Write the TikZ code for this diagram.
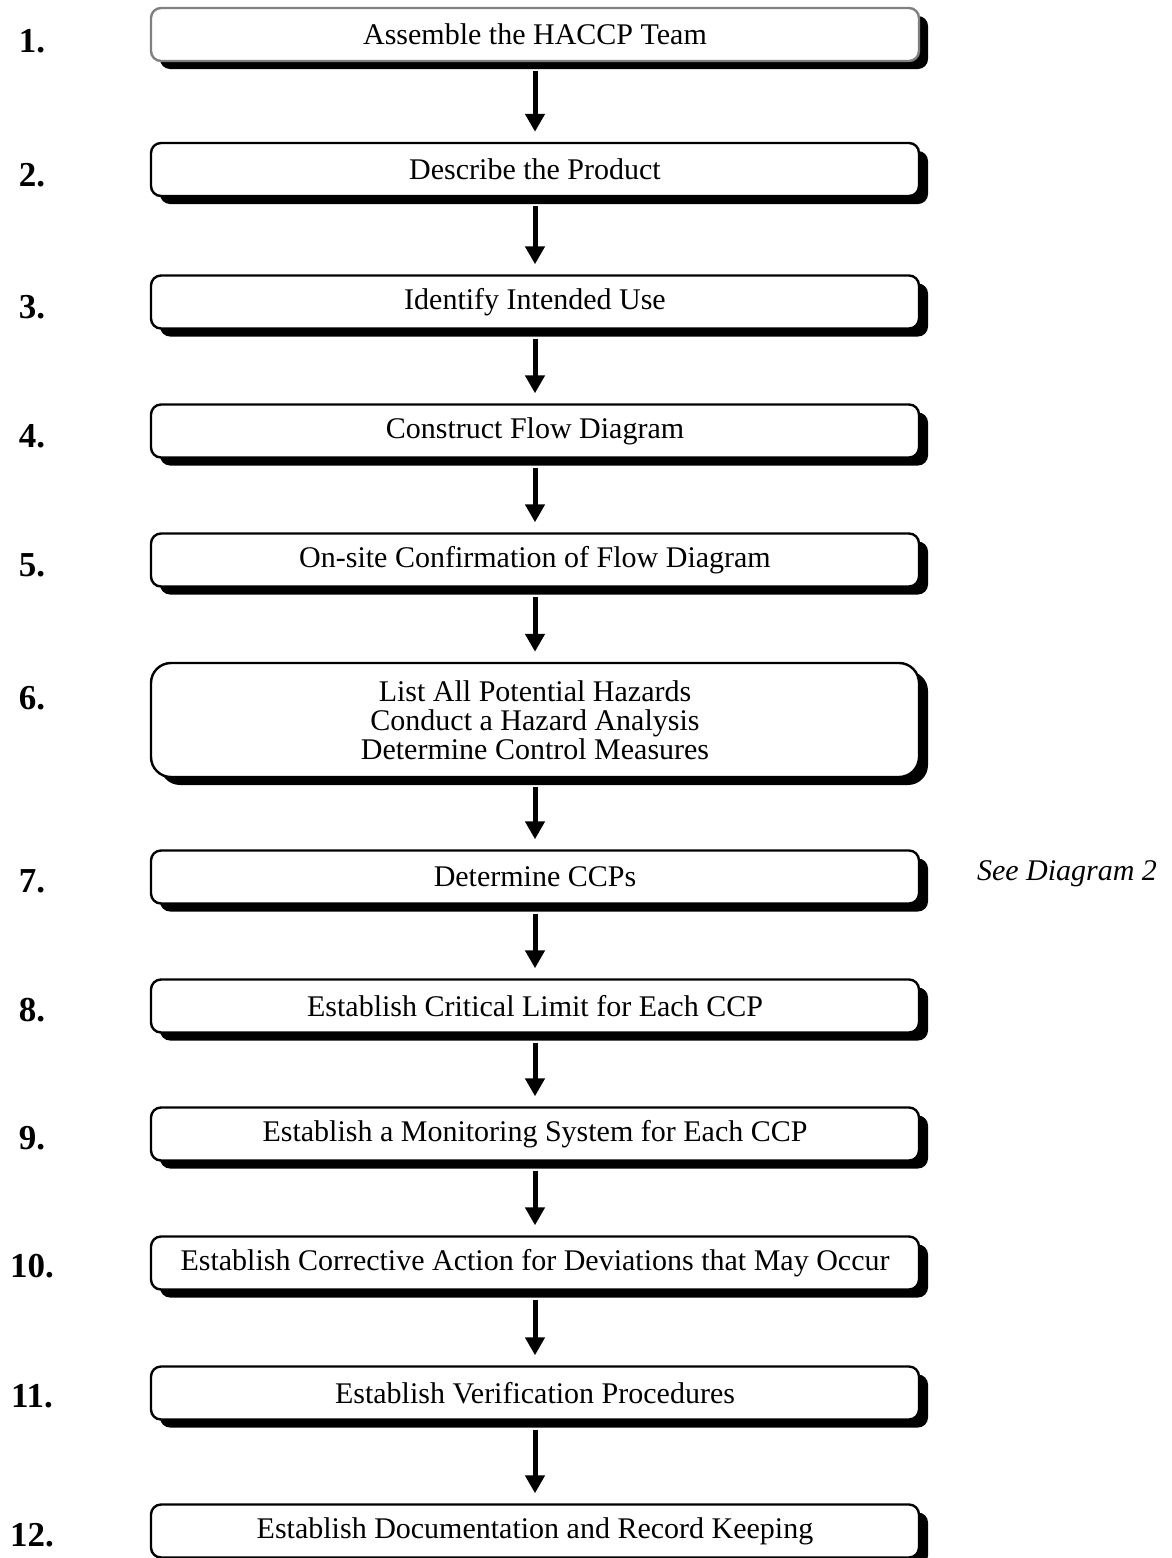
\documentclass[tikz,border=0pt]{standalone}
\usepackage{fontspec}
\setmainfont{Liberation Serif}
\usepackage{tikz}
\usetikzlibrary{shadows}
\usetikzlibrary{arrows.meta}

\tikzset{
    stepbox/.style={draw=black, line width=2.4pt, rounded corners=10pt, fill=white,
                    minimum width=768pt, minimum height=53pt, inner sep=0pt, align=center,
                    font=\fontsize{30}{29}\selectfont,
                    drop shadow={shadow xshift=9pt, shadow yshift=-8pt, fill=black, opacity=1}},
    stepnum/.style={font=\fontsize{35}{36}\selectfont\bfseries},
    steparrow/.style={line width=5pt, -{Triangle[width=19pt,length=18pt]}}
}

\begin{document}
\begin{tikzpicture}[x=1pt,y=-1pt]
        \useasboundingbox (0,0) rectangle (1171,1558);

        \node[stepbox, draw=black!50] (b1) at (535,34.5) {Assemble the HACCP Team};
        \node[stepbox] (b2) at (535,169.5) {Describe the Product};
        \node[stepbox] (b3) at (535,302) {Identify Intended Use};
        \node[stepbox] (b4) at (535,431) {Construct Flow Diagram};
        \node[stepbox] (b5) at (535,560) {On-site Confirmation of Flow Diagram};
        \node[stepbox, rounded corners=20pt, minimum height=114pt] (b6) at (535,720)
             {List All Potential Hazards\\ Conduct a Hazard Analysis\\ Determine Control Measures};
        \node[stepbox] (b7) at (535,877) {Determine CCPs};
        \node[stepbox] (b8) at (535,1006) {Establish Critical Limit for Each CCP};
        \node[stepbox] (b9) at (535,1134) {Establish a Monitoring System for Each CCP};
        \node[stepbox] (b10) at (535,1263) {Establish Corrective Action for Deviations that May Occur};
        \node[stepbox] (b11) at (535,1393) {Establish Verification Procedures};
        \node[stepbox] (b12) at (535,1531) {Establish Documentation and Record Keeping};

        \node[stepnum] (n1) at (32,41) {1.};
        \node[stepnum] (n2) at (32,175) {2.};
        \node[stepnum] (n3) at (32,307) {3.};
        \node[stepnum] (n4) at (32,436) {4.};
        \node[stepnum] (n5) at (32,565) {5.};
        \node[stepnum] (n6) at (32,698) {6.};
        \node[stepnum] (n7) at (32,881) {7.};
        \node[stepnum] (n8) at (32,1010) {8.};
        \node[stepnum] (n9) at (32,1138) {9.};
        \node[stepnum] (n10) at (32,1266) {10.};
        \node[stepnum] (n11) at (32,1396) {11.};
        \node[stepnum] (n12) at (32,1535) {12.};

        \node[font=\fontsize{30}{31}\selectfont\itshape] (see) at (1067,874) {See Diagram 2};

        \draw[steparrow] ([yshift=-9pt]b1.south) -- ([yshift=10pt]b2.north);
        \draw[steparrow] ([yshift=-9pt]b2.south) -- ([yshift=10pt]b3.north);
        \draw[steparrow] ([yshift=-9pt]b3.south) -- ([yshift=10pt]b4.north);
        \draw[steparrow] ([yshift=-9pt]b4.south) -- ([yshift=10pt]b5.north);
        \draw[steparrow] ([yshift=-9pt]b5.south) -- ([yshift=10pt]b6.north);
        \draw[steparrow] ([yshift=-9pt]b6.south) -- ([yshift=10pt]b7.north);
        \draw[steparrow] ([yshift=-9pt]b7.south) -- ([yshift=10pt]b8.north);
        \draw[steparrow] ([yshift=-9pt]b8.south) -- ([yshift=10pt]b9.north);
        \draw[steparrow] ([yshift=-9pt]b9.south) -- ([yshift=10pt]b10.north);
        \draw[steparrow] ([yshift=-9pt]b10.south) -- ([yshift=10pt]b11.north);
        \draw[steparrow] ([yshift=-9pt]b11.south) -- ([yshift=10pt]b12.north);

    \end{tikzpicture}
\end{document}
